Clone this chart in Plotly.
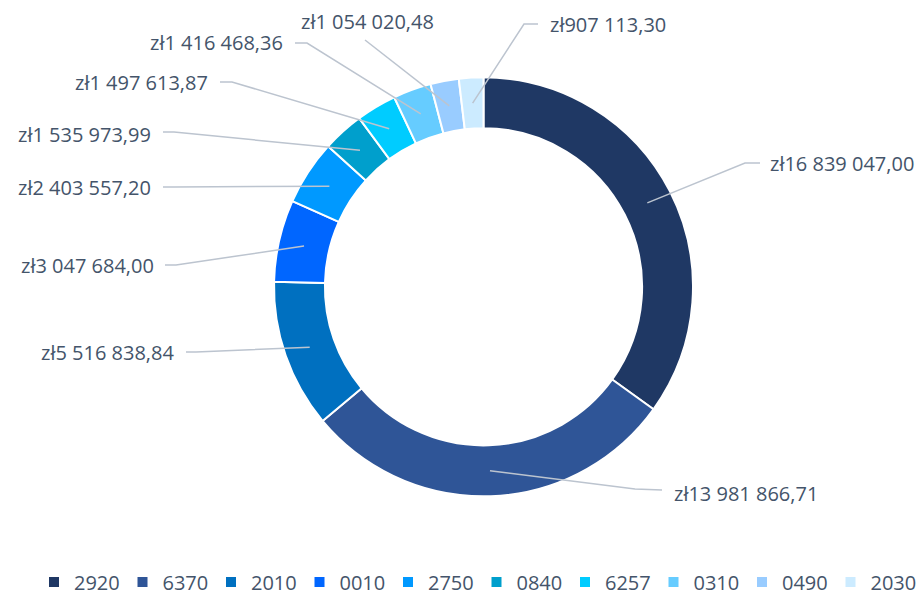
import math
import plotly.graph_objects as go

# ---- data ----
categories = ["2920", "6370", "2010", "0010", "2750", "0840", "6257", "0310", "0490", "2030"]
values = [16839047.00, 13981866.71, 5516838.84, 3047684.00, 2403557.20,
          1535973.99, 1497613.87, 1416468.36, 1054020.48, 907113.30]
colors = ["#1F3864", "#2F5597", "#0070C0", "#0066FF", "#0099FF",
          "#009FCC", "#00CCFF", "#66CCFF", "#99CCFF", "#CCEBFF"]

W, H = 923, 595
CX, CY, R_OUT, HOLE = 483.5, 286.8, 209.5, 0.757
R_MID = R_OUT * (1 + HOLE) / 2

def fmt(v):
    s = f"{v:,.2f}"
    whole, dec = s.split(".")
    return "zł" + whole.replace(",", " ") + "," + dec

# label placement (pixels): text x, text y, xanchor, leader line start points
label_layout = [
    (768, 163, "left",  [(760, 163), (745, 163)]),
    (672, 493, "left",  [(662, 490), (635, 489)]),
    (176, 352, "right", [(186, 352), (196, 352)]),
    (156, 265, "right", [(165, 265), (176, 265)]),
    (153, 187, "right", [(163, 187), (174, 187)]),
    (153, 134, "right", [(163, 132), (174, 132)]),
    (210, 83,  "right", [(220, 82), (232, 82)]),
    (285, 43,  "right", [(295, 43), (307, 43)]),
    (367, 22,  "center", [(365, 40)]),
    (548, 25,  "left",  [(538, 24), (524, 24)]),
]

def px(x):
    return x / W

def py(y):
    return 1 - y / H

fig = go.Figure(go.Pie(
    labels=categories, values=values, hole=HOLE, sort=False,
    direction="clockwise", rotation=0, textinfo="none", hoverinfo="label+value",
    marker=dict(colors=colors, line=dict(color="white", width=2)),
    domain=dict(x=[(CX - R_OUT) / W, (CX + R_OUT) / W],
                y=[(H - CY - R_OUT) / H, (H - CY + R_OUT) / H]),
))

total = sum(values)
cum = 0.0
shapes, annotations = [], []
for v, (tx, ty, anc, pts) in zip(values, label_layout):
    mid = (cum + v / 2) / total * 2 * math.pi
    cum += v
    ex = CX + R_MID * math.sin(mid)
    ey = CY - R_MID * math.cos(mid)
    allpts = pts + [(ex, ey)]
    path = "M " + " L ".join(f"{px(a)},{py(b)}" for a, b in allpts)
    shapes.append(dict(type="path", xref="paper", yref="paper", path=path,
                       line=dict(color="#BCC4CF", width=1.5)))
    annotations.append(dict(x=px(tx), y=py(ty), xref="paper", yref="paper",
                            text=fmt(v), showarrow=False, xanchor=anc, yanchor="middle",
                            font=dict(family="Open Sans", size=20, color="#44546A")))

fig.update_layout(
    width=W, height=H, margin=dict(l=0, r=0, t=0, b=0, autoexpand=False),
    paper_bgcolor="white", plot_bgcolor="white",
    shapes=shapes, annotations=annotations,
    legend=dict(orientation="h", x=px(34), xanchor="left", y=py(582), yanchor="middle",
                font=dict(family="Open Sans", size=20, color="#44546A"),
                itemwidth=30, entrywidth=43.5, entrywidthmode="pixels",
                traceorder="normal"),
    showlegend=True,
)

fig.write_html("out.html", config={"displayModeBar": False},
               post_script="document.body.style.margin='0';document.body.style.overflow='hidden';")
